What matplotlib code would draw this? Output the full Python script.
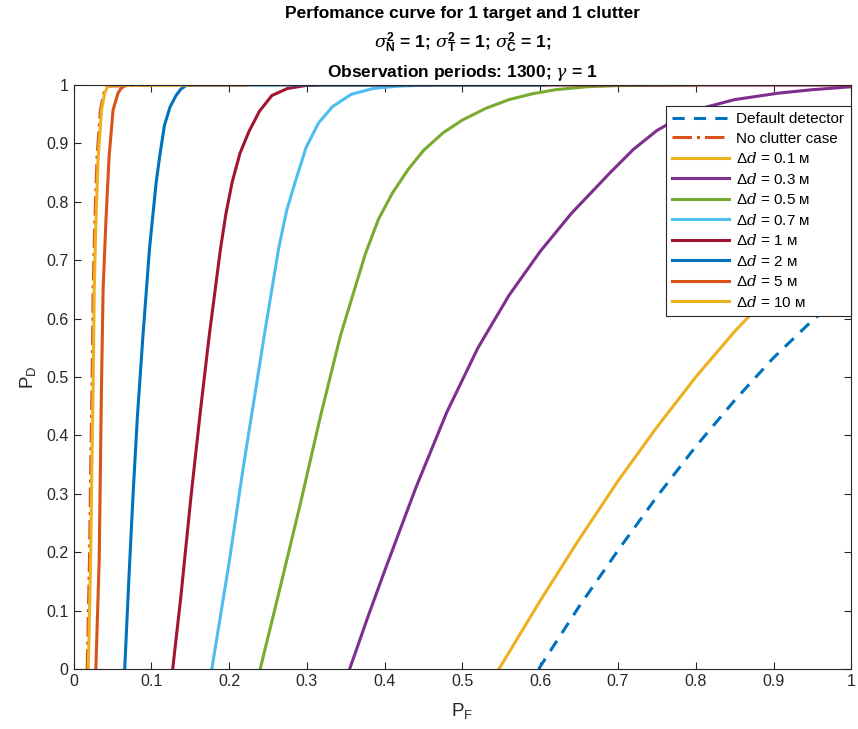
#!/usr/bin/python3

"""Performance curves for 1 target and 1 clutter."""

import matplotlib
matplotlib.use('Agg')
import matplotlib.pyplot as plt

plt.rcParams['font.family'] = ['Liberation Sans', 'DejaVu Sans']
plt.rcParams['mathtext.fontset'] = 'custom'
plt.rcParams['mathtext.rm'] = 'Liberation Sans'
plt.rcParams['mathtext.it'] = 'DejaVu Serif:italic'
plt.rcParams['mathtext.bf'] = 'Liberation Sans:bold'

# values
DEFAULT_PF = [0.598, 0.65, 0.70, 0.75, 0.80, 0.85, 0.90, 0.95, 1.0]
DEFAULT_PD = [0.0, 0.107, 0.203, 0.295, 0.381, 0.46, 0.533, 0.597, 0.651]

NOCLUT_PF = [0.0175, 0.0205, 0.022, 0.0238, 0.0252, 0.0273, 0.0303, 0.0345, 0.039, 0.043, 0.10]
NOCLUT_PD = [0.0, 0.187, 0.34, 0.489, 0.649, 0.763, 0.877, 0.957, 0.986, 0.998, 1.0]

D01_PF = [0.547, 0.60, 0.65, 0.70, 0.75, 0.80, 0.85, 0.90, 0.95, 1.0]
D01_PD = [0.0, 0.117, 0.222, 0.322, 0.414, 0.50, 0.578, 0.648, 0.708, 0.76]

D03_PF = [0.355, 0.38, 0.40, 0.44, 0.48, 0.52, 0.56, 0.60, 0.64, 0.69, 0.72, 0.75,
          0.78, 0.81, 0.85, 0.906, 0.95, 1.0]
D03_PD = [0.0, 0.095, 0.168, 0.31, 0.44, 0.55, 0.64, 0.715, 0.78, 0.85, 0.89, 0.922,
          0.945, 0.961, 0.975, 0.986, 0.992, 0.997]

D05_PF = [0.240, 0.263, 0.292, 0.317, 0.343, 0.375, 0.392, 0.41, 0.43, 0.45, 0.475,
          0.50, 0.53, 0.56, 0.59, 0.62, 0.66, 0.70, 0.80]
D05_PD = [0.0, 0.125, 0.285, 0.43, 0.57, 0.71, 0.77, 0.815, 0.855, 0.888, 0.918,
          0.94, 0.96, 0.975, 0.985, 0.992, 0.997, 0.999, 1.0]

D07_PF = [0.1778, 0.1999, 0.219, 0.232, 0.2446, 0.2637, 0.274, 0.285, 0.299, 0.315,
          0.333, 0.357, 0.385, 0.417, 0.46]
D07_PD = [0.0, 0.181, 0.352, 0.46, 0.566, 0.720, 0.785, 0.834, 0.893, 0.935,
          0.963, 0.984, 0.994, 0.998, 1.0]

D1_PF = [0.1275, 0.138, 0.151, 0.163, 0.174, 0.189, 0.196, 0.204, 0.214, 0.2254,
         0.239, 0.255, 0.275, 0.298, 0.32, 1.0]
D1_PD = [0.0, 0.124, 0.295, 0.44, 0.566, 0.720, 0.78, 0.834, 0.883, 0.920,
         0.955, 0.982, 0.994, 0.999, 1.0, 1.0]

D2_PF = [0.0658, 0.071, 0.0764, 0.082, 0.089, 0.0977, 0.1063, 0.111, 0.1169, 0.124,
         0.1318, 0.138, 0.1446, 0.155, 0.605]
D2_PD = [0.0, 0.15, 0.295, 0.43, 0.566, 0.72, 0.834, 0.88, 0.931, 0.962,
         0.982, 0.993, 0.999, 1.0, 1.0]

D5_PF = [0.0287, 0.033, 0.0345, 0.036, 0.038, 0.0415, 0.0457, 0.0508, 0.0572, 0.061,
         0.065, 0.07, 0.223]
D5_PD = [0.0, 0.187, 0.34, 0.489, 0.649, 0.763, 0.877, 0.957, 0.986, 0.994,
         0.998, 1.0, 1.0]

D10_PF = [0.019, 0.022, 0.0235, 0.0253, 0.0266, 0.0287, 0.0317, 0.036, 0.040, 0.044, 0.048, 0.146]
D10_PD = [0.0, 0.187, 0.34, 0.489, 0.649, 0.763, 0.877, 0.957, 0.986, 0.998, 1.0, 1.0]

TICKS = [0, 0.1, 0.2, 0.3, 0.4, 0.5, 0.6, 0.7, 0.8, 0.9, 1]
TICK_LABELS = ['0', '0.1', '0.2', '0.3', '0.4', '0.5', '0.6', '0.7', '0.8', '0.9', '1']

BLUE = '#0072BD'
ORANGE = '#D95319'
YELLOW = '#EDB120'
PURPLE = '#7E2F8E'
GREEN = '#77AC30'
CYAN = '#4DBEEE'
RED = '#A2142F'


def main():
    fig = plt.figure(figsize=(8.58, 7.29), dpi=100)
    ax = fig.add_axes([0.0857, 0.0823, 0.9065, 0.8011])

    lw = 2.2
    ax.plot(DEFAULT_PF, DEFAULT_PD, color=BLUE, lw=lw, ls=(0, (4, 3)), label='Default detector')
    ax.plot(NOCLUT_PF, NOCLUT_PD, color=ORANGE, lw=lw, ls='-.', label='No clutter case')
    ax.plot(D01_PF, D01_PD, color=YELLOW, lw=lw, label=r'$\Delta d$ = 0.1 м')
    ax.plot(D03_PF, D03_PD, color=PURPLE, lw=lw, label=r'$\Delta d$ = 0.3 м')
    ax.plot(D05_PF, D05_PD, color=GREEN, lw=lw, label=r'$\Delta d$ = 0.5 м')
    ax.plot(D07_PF, D07_PD, color=CYAN, lw=lw, label=r'$\Delta d$ = 0.7 м')
    ax.plot(D1_PF, D1_PD, color=RED, lw=lw, label=r'$\Delta d$ = 1 м')
    ax.plot(D2_PF, D2_PD, color=BLUE, lw=lw, label=r'$\Delta d$ = 2 м')
    ax.plot(D5_PF, D5_PD, color=ORANGE, lw=lw, label=r'$\Delta d$ = 5 м')
    ax.plot(D10_PF, D10_PD, color=YELLOW, lw=lw, label=r'$\Delta d$ = 10 м')

    ax.set_xlim(0, 1)
    ax.set_ylim(0, 1)
    ax.set_xticks(TICKS)
    ax.set_xticklabels(TICK_LABELS)
    ax.set_yticks(TICKS)
    ax.set_yticklabels(TICK_LABELS)
    ax.tick_params(direction='in', top=True, right=True, length=5, width=0.8,
                   colors='#262626', labelsize=11.5, labelcolor='#262626')
    for spine in ax.spines.values():
        spine.set_color('#262626')
        spine.set_linewidth(0.8)

    ax.set_xlabel(r'P$_\mathregular{F}$', fontsize=13.5, color='#262626', labelpad=9)
    ax.set_ylabel(r'P$_\mathregular{D}$', fontsize=13.5, color='#262626', labelpad=6)

    title = ('Perfomance curve for 1 target and 1 clutter\n'
             r'$\sigma^{\mathbf{2}}_{\mathbf{N}}$ = 1; '
             r'$\sigma^{\mathbf{2}}_{\mathbf{T}}$ = 1; '
             r'$\sigma^{\mathbf{2}}_{\mathbf{C}}$ = 1;' '\n'
             r'Observation periods: 1300; $\gamma$ = 1')
    ax.set_title(title, fontsize=12.5, fontweight='bold', pad=6, linespacing=1.55)

    leg = ax.legend(loc='upper right', bbox_to_anchor=(0.999, 0.964), borderaxespad=0,
                    fontsize=11, handlelength=3.7, labelspacing=0.36, handletextpad=0.5,
                    borderpad=0.4, fancybox=False, framealpha=1, edgecolor='#262626')
    leg.get_frame().set_linewidth(0.8)

    fig.savefig('out.png', dpi=100)


if __name__ == '__main__':
    main()
